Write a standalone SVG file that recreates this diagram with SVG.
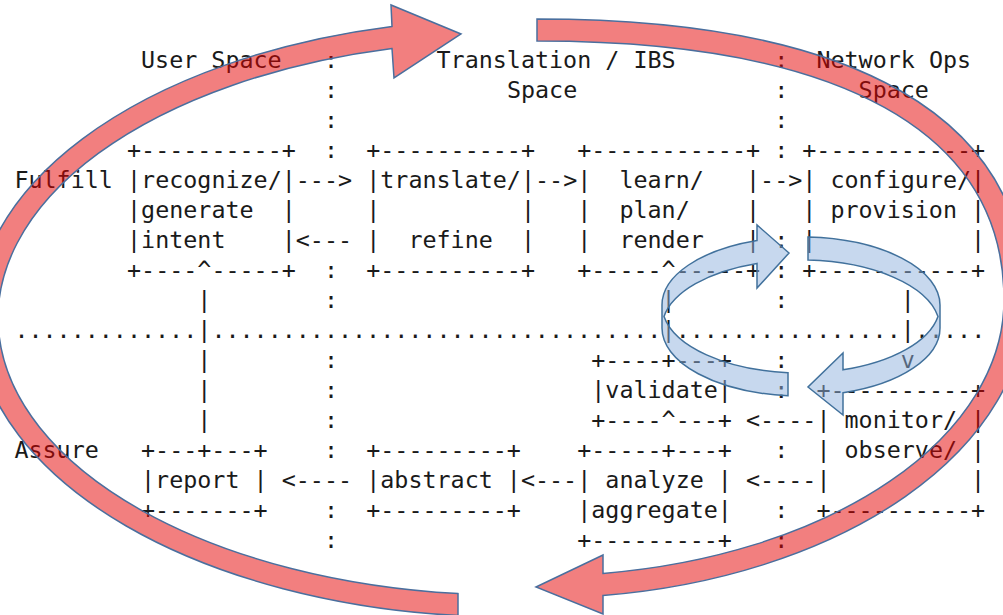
<svg xmlns="http://www.w3.org/2000/svg" width="1003" height="615" viewBox="0 0 1003 615" xml:space="preserve">
<style>
text{font-family:"DejaVu Sans Mono","Liberation Mono",monospace;font-size:23.37px;fill:#1a1a1a;white-space:pre}
.red{fill:#E60000;fill-opacity:.5;stroke:#4A6F9E;stroke-width:1.5;stroke-linejoin:miter}
.blue{fill:#8FB2DD;fill-opacity:.5;stroke:#41719C;stroke-width:1.5;stroke-linejoin:miter}
</style>
<rect width="1003" height="615" fill="#fff"/>
<g id="labels">
<text x="141.0" y="67.5">User Space</text>
<text x="436.5" y="67.5">Translation / IBS</text>
<text x="506.9" y="97.6">Space</text>
<text x="816.4" y="67.5">Network Ops</text>
<text x="858.6" y="97.6">Space</text>
<text x="14.4" y="187.7">Fulfill</text>
<text x="14.4" y="458.2">Assure</text>
</g>
<g id="separators">
<text><tspan x="323.9" y="67.5">:</tspan><tspan x="323.9" y="97.6">:</tspan><tspan x="323.9" y="127.6">:</tspan><tspan x="323.9" y="157.7">:</tspan><tspan x="323.9" y="277.9">:</tspan><tspan x="323.9" y="307.9">:</tspan><tspan x="323.9" y="368.0">:</tspan><tspan x="323.9" y="398.1">:</tspan><tspan x="323.9" y="428.1">:</tspan><tspan x="323.9" y="458.2">:</tspan><tspan x="323.9" y="518.3">:</tspan><tspan x="323.9" y="548.3">:</tspan></text>
<text><tspan x="774.2" y="67.5">:</tspan><tspan x="774.2" y="97.6">:</tspan><tspan x="774.2" y="127.6">:</tspan><tspan x="774.2" y="157.7">:</tspan><tspan x="774.2" y="247.8">:</tspan><tspan x="774.2" y="277.9">:</tspan><tspan x="774.2" y="307.9">:</tspan><tspan x="774.2" y="368.0">:</tspan><tspan x="774.2" y="398.1">:</tspan><tspan x="774.2" y="458.2">:</tspan><tspan x="774.2" y="518.3">:</tspan><tspan x="774.2" y="548.3">:</tspan></text>
<text x="14.4" y="338.0">.............</text>
<text x="211.4" y="338.0">................................</text>
<text x="675.7" y="338.0">................</text>
<text x="914.9" y="338.0">.....</text>
</g>
<g id="node-recognize">
<text x="127.0" y="157.7">+----------+</text>
<text x="127.0" y="187.7">|recognize/|</text>
<text x="127.0" y="217.8">|generate  |</text>
<text x="127.0" y="247.8">|intent    |</text>
<text x="127.0" y="277.9">+----^-----+</text>
</g>
<g id="node-translate">
<text x="366.2" y="157.7">+----------+</text>
<text x="366.2" y="187.7">|translate/|</text>
<text x="366.2" y="217.8">|          |</text>
<text x="366.2" y="247.8">|  refine  |</text>
<text x="366.2" y="277.9">+----------+</text>
</g>
<g id="node-learn">
<text x="577.2" y="157.7">+-----------+</text>
<text x="577.2" y="187.7">|  learn/   |</text>
<text x="577.2" y="217.8">|  plan/    |</text>
<text x="577.2" y="247.8">|  render   |</text>
<text x="577.2" y="277.9">+-----^-----+</text>
</g>
<g id="node-configure">
<text x="802.3" y="157.7">+-----------+</text>
<text x="802.3" y="187.7">| configure/|</text>
<text x="802.3" y="217.8">| provision |</text>
<text x="802.3" y="247.8">|           |</text>
<text x="802.3" y="277.9">+-----------+</text>
</g>
<g id="node-validate">
<text x="591.3" y="368.0">+----+---+</text>
<text x="591.3" y="398.1">|validate|</text>
<text x="591.3" y="428.1">+----^---+</text>
</g>
<g id="node-monitor">
<text x="816.4" y="398.1">+----------+</text>
<text x="816.4" y="428.1">| monitor/ |</text>
<text x="816.4" y="458.2">| observe/ |</text>
<text x="816.4" y="488.2">|          |</text>
<text x="816.4" y="518.3">+----------+</text>
</g>
<g id="node-report">
<text x="141.0" y="458.2">+---+---+</text>
<text x="141.0" y="488.2">|report |</text>
<text x="141.0" y="518.3">+-------+</text>
</g>
<g id="node-abstract">
<text x="366.2" y="458.2">+---------+</text>
<text x="366.2" y="488.2">|abstract |</text>
<text x="366.2" y="518.3">+---------+</text>
</g>
<g id="node-analyze">
<text x="577.2" y="458.2">+-----+---+</text>
<text x="577.2" y="488.2">| analyze |</text>
<text x="577.2" y="518.3">|aggregate|</text>
<text x="577.2" y="548.3">+---------+</text>
</g>
<g id="connectors">
<text x="295.8" y="187.7">---&gt;</text>
<text x="535.0" y="187.7">--&gt;</text>
<text x="760.1" y="187.7">--&gt;</text>
<text x="295.8" y="247.8">&lt;---</text>
<text><tspan x="197.3" y="307.9">|</tspan><tspan x="197.3" y="338.0">|</tspan><tspan x="197.3" y="368.0">|</tspan><tspan x="197.3" y="398.1">|</tspan><tspan x="197.3" y="428.1">|</tspan></text>
<text><tspan x="661.6" y="307.9">|</tspan><tspan x="661.6" y="338.0">|</tspan></text>
<text><tspan x="900.8" y="307.9">|</tspan><tspan x="900.8" y="338.0">|</tspan><tspan x="900.8" y="368.0">v</tspan></text>
<text x="746.0" y="428.1">&lt;----</text>
<text x="281.7" y="488.2">&lt;----</text>
<text x="520.9" y="488.2">&lt;---</text>
<text x="746.0" y="488.2">&lt;----</text>
</g>
<g id="cycle-arrows">
<path class="red" d="M 458 615.6 A 534 299 0 0 1 392 26.4 L 391 5 L 461 34 L 394 78 L 392 48.5 A 512 277 0 0 0 458 593.6 Z"/>
<path class="red" d="M 537 19 C 854.9 19 1026 117.4 1026 300 A 486 298 0 0 1 603 595.5 L 603 614 L 536 587 L 603 555 L 603 573.4 A 464 276 0 0 0 1004 300 C 1004 131.7 840.6 41 537 41 Z"/>
<path class="blue" d="M 757 240.5 A 139 68 0 0 0 662 305 L 662 328 A 139 68 0 0 0 788 395.7 L 788 372.7 A 139 68 0 0 1 664 316.5 A 139 68 0 0 1 757 263.5 L 757 288 L 789 253 L 757 225 Z"/>
<path class="blue" d="M 808 237.1 A 139 68 0 0 1 940 305 L 940 328 A 139 68 0 0 1 843 392.8 L 843 415 L 808 387 L 843 353 L 843 369.8 A 139 68 0 0 0 938 316.5 A 139 68 0 0 0 808 260.1 Z"/>
</g>
</svg>
